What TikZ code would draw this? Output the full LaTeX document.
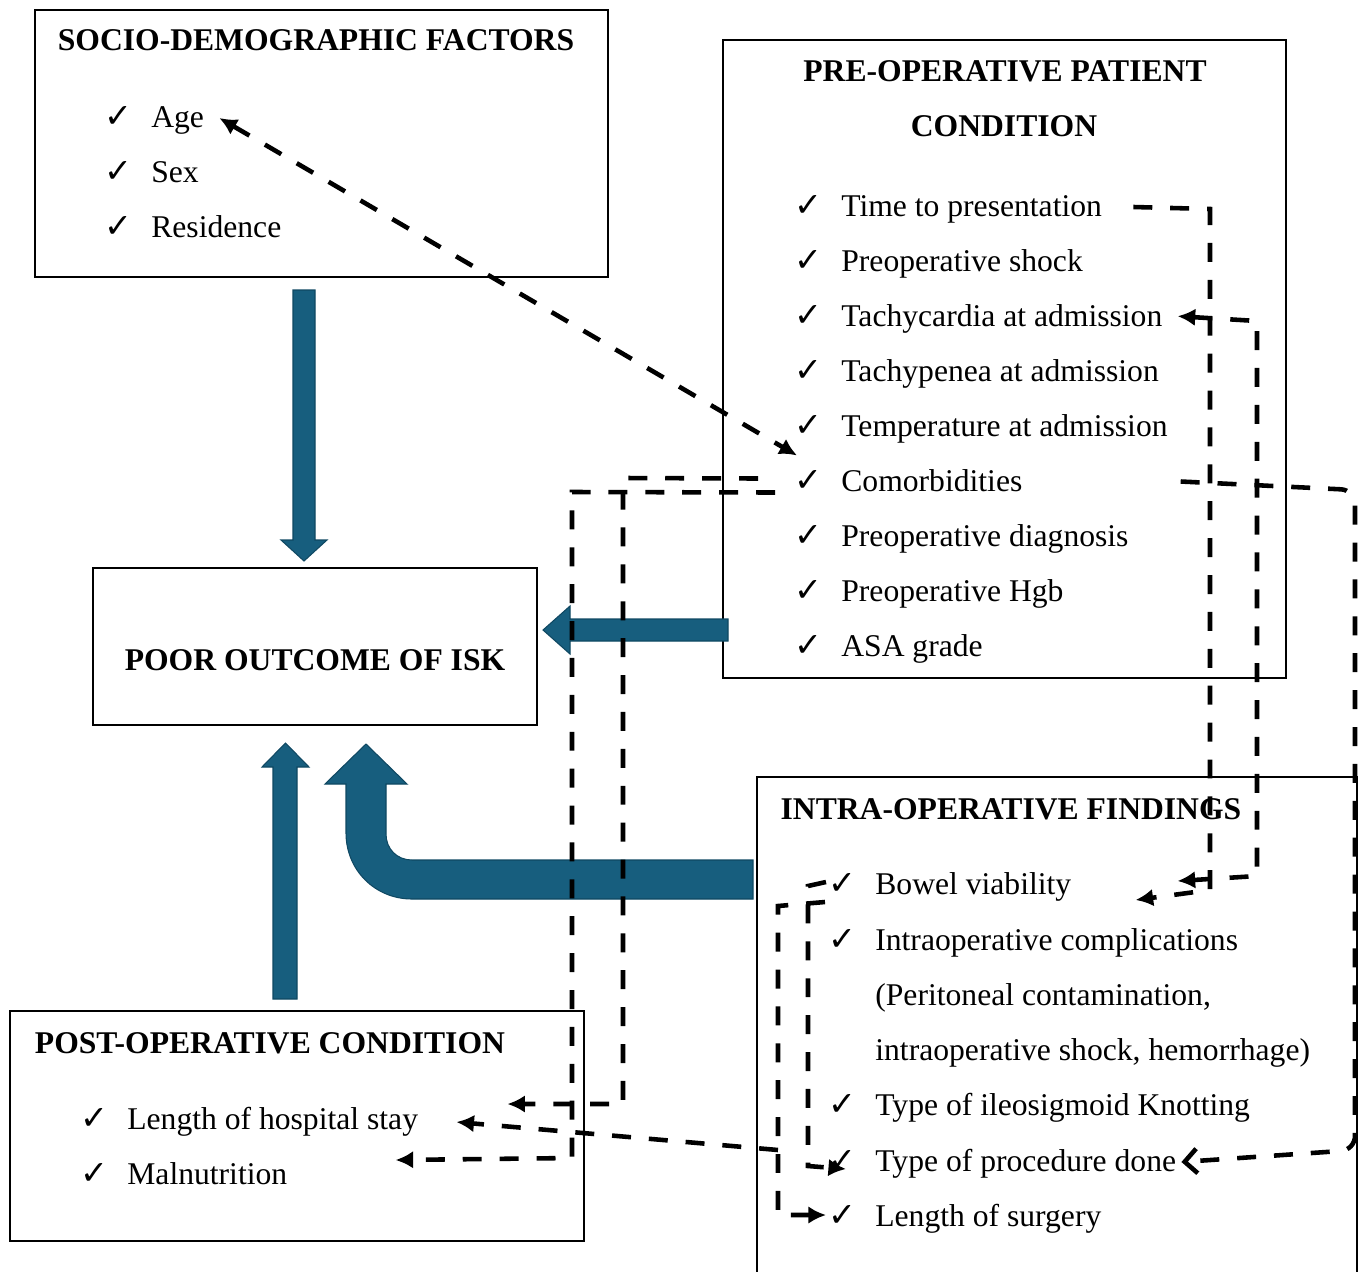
\documentclass[tikz,border=0pt]{standalone}
\usepackage{fontspec}
\setmainfont{Liberation Serif}
\newfontfamily\ckfont{DejaVu Sans}
\usetikzlibrary{calc, arrows.meta}
\definecolor{isk}{HTML}{175E7E}
\definecolor{iskline}{HTML}{0F4862}
\newcommand{\ck}{\makebox[0.94cm][l]{\ckfont\fontsize{19}{19}\selectfont ✓}}

\begin{document}
\begin{tikzpicture}[x=0.02cm, y=-0.02cm,
  font=\fontsize{18}{22}\selectfont,
  box/.style={draw, line width=1.1pt, inner sep=0pt},
  item/.style={anchor=base west, inner sep=0pt},
  boxtitle/.style={anchor=base, inner sep=0pt, font=\fontsize{18}{22}\selectfont\bfseries},
  link/.style={line width=2.6pt, dash pattern=on 10.8pt off 10.2pt},
  endtip/.style={-{Latex[length=10pt,width=10pt]}},
  bigarrow/.style={fill=isk, draw=iskline, line width=0.6pt}]
    \useasboundingbox (0,0) rectangle (1358,1271);

    % boxes
    \node[box, minimum width=11.46cm, minimum height=5.34cm] (socio) at (321.5,143.5) {};
    \node[box, minimum width=11.26cm, minimum height=12.76cm] (pre) at (1004.5,359) {};
    \node[box, minimum width=8.88cm, minimum height=3.14cm] (poor) at (315,646.5) {};
    \node[box, minimum width=12cm, minimum height=10.26cm] (intra) at (1057,1033.5) {};
    \node[box, minimum width=11.48cm, minimum height=4.6cm] (post) at (297,1126) {};

    % titles
    \node[boxtitle] (sociot) at (316,51) {SOCIO-DEMOGRAPHIC FACTORS};
    \node[boxtitle] (pret1) at (1005,81) {PRE-OPERATIVE PATIENT};
    \node[boxtitle] (pret2) at (1004,136) {CONDITION};
    \node[boxtitle] (poort) at (315,670) {POOR OUTCOME OF ISK};
    \node[boxtitle] (intrat) at (1011,819) {INTRA-OPERATIVE FINDINGS};
    \node[boxtitle] (postt) at (270,1053) {POST-OPERATIVE CONDITION};

    % items
    \foreach \name/\txt [count=\i from 0] in {age/Age, sex/Sex, res/Residence} {
        \node[item] (\name) at (104,{127+55*\i}) {\ck\txt};
    }
    \foreach \name/\txt [count=\i from 0] in {time/Time to presentation, shock/Preoperative shock,
        tachy/Tachycardia at admission, tachyp/Tachypenea at admission,
        temp/Temperature at admission, comor/Comorbidities, diag/Preoperative diagnosis,
        hgb/Preoperative Hgb, asa/ASA grade} {
        \node[item] (\name) at (794,{216+55.1*\i}) {\ck\txt};
    }
    \node[item] (bowel) at (828,894) {\ck Bowel viability};
    \node[item] (compl) at (828,950) {\ck Intraoperative complications};
    \node[item] (perit) at (875,1005) {(Peritoneal contamination,};
    \node[item] (ishock) at (875,1060) {intraoperative shock, hemorrhage)};
    \node[item] (knot) at (828,1115) {\ck Type of ileosigmoid Knotting};
    \node[item] (proc) at (828,1171) {\ck Type of procedure done};
    \node[item] (surg) at (828,1226) {\ck Length of surgery};
    \node[item] (stay) at (80,1129) {\ck Length of hospital stay};
    \node[item] (maln) at (80,1184) {\ck Malnutrition};

    % block arrows
    \draw[bigarrow] (293,290) -- (315,290) -- (315,540) -- (327,540) -- (304,561) -- (281,540) -- (293,540) -- cycle;
    \draw[bigarrow] (728,619) -- (570,619) -- (570,606) -- (543,630) -- (570,654) -- (570,641) -- (728,641) -- cycle;
    \draw[bigarrow] (273,999) -- (273,767) -- (262,767) -- (285.5,743) -- (309,767) -- (297,767) -- (297,999) -- cycle;
    \draw[bigarrow] (753,860) -- (412,860) .. controls (397,860) and (386,849) .. (386,834) -- (386,784) -- (407,784)
        -- (366,744) -- (325,784) -- (346,784) -- (346,833) .. controls (346,870) and (375,899) .. (412,899) -- (753,899) -- cycle;

    % dashed links
    \draw[link, {Latex[length=10pt,width=10pt]}-{Latex[length=10pt,width=10pt]}] ($(age.base east)+(15,-9)$) -- ($(comor.base west)+(3,-36)$);
    \draw[link, endtip] ($(time.base east)+(31,-9)$) -- (1210,209) -- (1210,890) -- ($(bowel.base east)+(64,6)$);
    \draw[link, {Latex[length=10pt,width=10pt]}-{Latex[length=10pt,width=10pt]}] ($(tachy.base east)+(15,-10)$) -- (1257,321) -- (1257,876) -- ($(bowel.base east)+(106,-13)$);
    \draw[link, rounded corners=8pt, -{Straight Barb[length=7pt,width=14pt]}] ($(comor.base east)+(158,-10)$) -- (1355,490) -- (1355,1150) -- ($(proc.base east)+(5,-9)$);
    \draw[link, endtip] ($(comor.base west)+(-36,-13)$) -- (623,478) -- (623,1104) -- ($(stay.base east)+(89,-25)$);
    \draw[link, endtip] ($(comor.base west)+(-19,1)$) -- (572,492) -- (572,1158) -- ($(maln.base east)+(108,-24)$);
    \draw[link, endtip] (778,1150) -- ($(stay.base east)+(38,-7)$);
    \draw[link, endtip] ($(bowel.base west)+(-2,-12)$) -- (808,886) -- (808,1166) -- ($(proc.base west)+(18,-2)$);
    \draw[link, endtip] ($(bowel.base west)+(-3,8)$) -- (778,906) -- (778,1215) -- ($(surg.base west)+(-2,-11)$);
\end{tikzpicture}
\end{document}
